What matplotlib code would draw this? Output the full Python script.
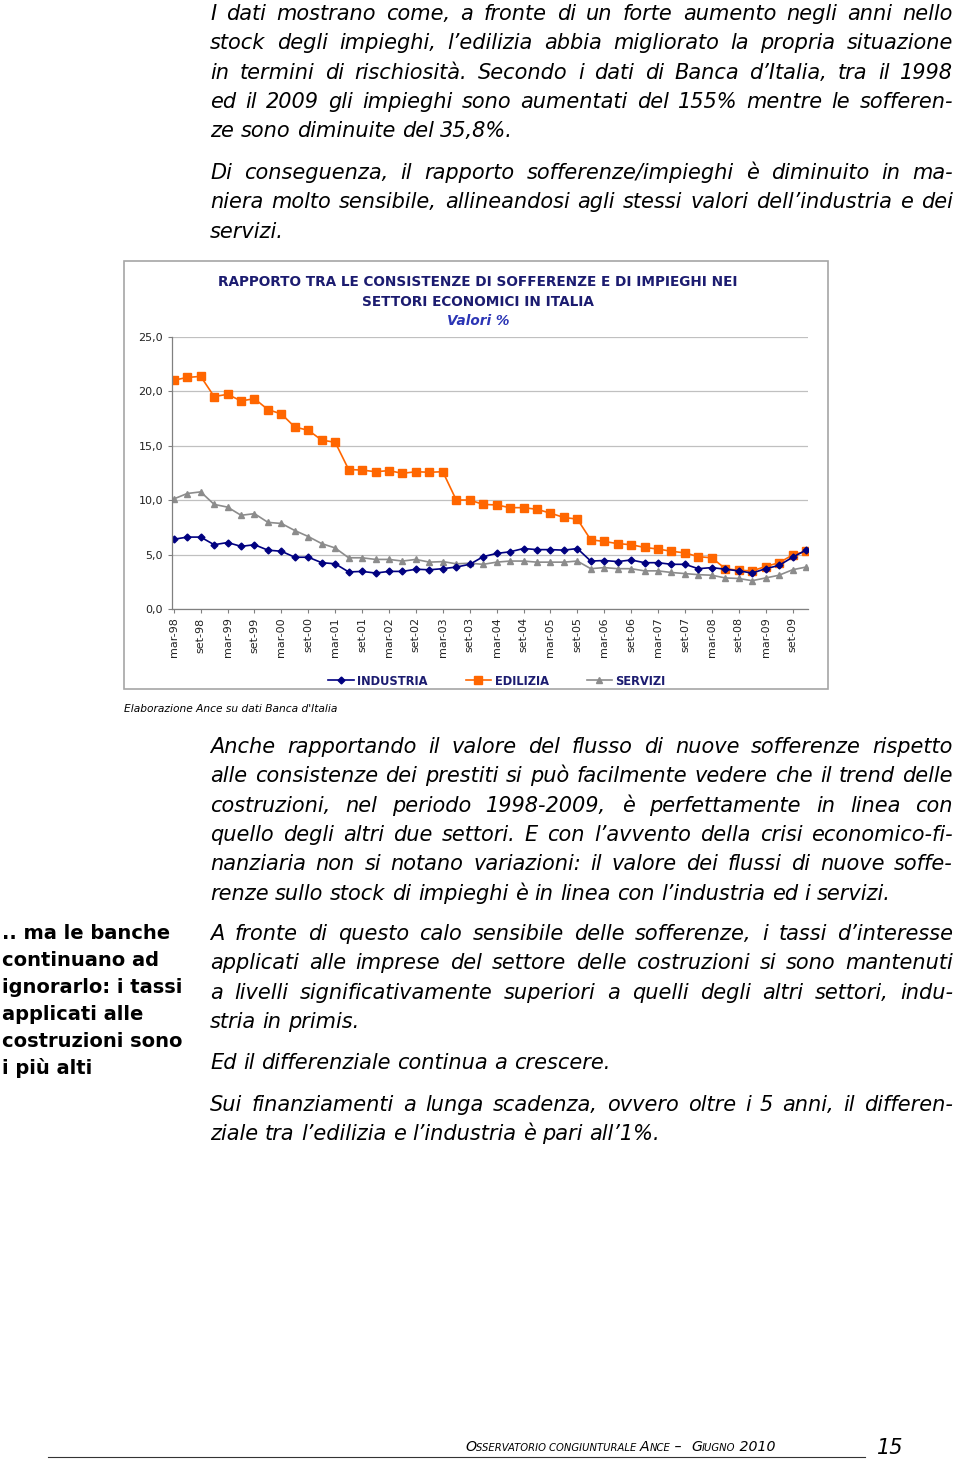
import matplotlib
matplotlib.use('Agg')
import matplotlib.pyplot as plt
from matplotlib.lines import Line2D
from matplotlib.patches import Rectangle

W, H = 960, 1461

# Quarterly data mar-98 ... dic-09 (valori %)
industria = [6.4, 6.6, 6.6, 5.9, 6.1, 5.75, 5.9, 5.4, 5.3, 4.75, 4.75, 4.25,
             4.15, 3.4, 3.45, 3.3, 3.45, 3.45, 3.65, 3.6, 3.7, 3.85, 4.1, 4.8,
             5.1, 5.25, 5.55, 5.45, 5.45, 5.4, 5.55, 4.4, 4.45, 4.35, 4.5, 4.25,
             4.25, 4.1, 4.1, 3.7, 3.8, 3.65, 3.5, 3.3, 3.7, 4.0, 4.75, 5.4]
edilizia = [21.0, 21.25, 21.35, 19.5, 19.7, 19.1, 19.3, 18.3, 17.9, 16.7, 16.4, 15.5,
            15.3, 12.8, 12.75, 12.6, 12.7, 12.45, 12.6, 12.55, 12.6, 10.0, 10.0, 9.6,
            9.55, 9.3, 9.3, 9.15, 8.8, 8.4, 8.25, 6.35, 6.2, 6.0, 5.9, 5.65,
            5.5, 5.3, 5.15, 4.8, 4.7, 3.7, 3.55, 3.5, 3.9, 4.25, 4.95, 5.3]
servizi = [10.1, 10.6, 10.75, 9.6, 9.35, 8.6, 8.75, 7.95, 7.85, 7.2, 6.65, 6.0,
           5.6, 4.7, 4.7, 4.55, 4.55, 4.4, 4.55, 4.3, 4.35, 4.15, 4.2, 4.1,
           4.3, 4.4, 4.4, 4.3, 4.3, 4.3, 4.4, 3.7, 3.8, 3.7, 3.7, 3.5,
           3.5, 3.35, 3.25, 3.15, 3.1, 2.85, 2.8, 2.6, 2.85, 3.1, 3.6, 3.85]
tick_labels = ['mar-98', 'set-98', 'mar-99', 'set-99', 'mar-00', 'set-00',
               'mar-01', 'set-01', 'mar-02', 'set-02', 'mar-03', 'set-03',
               'mar-04', 'set-04', 'mar-05', 'set-05', 'mar-06', 'set-06',
               'mar-07', 'set-07', 'mar-08', 'set-08', 'mar-09', 'set-09']
y_ticks = [0, 5, 10, 15, 20, 25]

# Page text
para1 = ["I dati mostrano come, a fronte di un forte aumento negli anni nello",
         "stock  degli impieghi, l’edilizia abbia migliorato la propria situazione",
         "in termini di rischiosità. Secondo i dati di Banca d’Italia, tra il 1998",
         "ed il 2009 gli impieghi sono aumentati del 155% mentre le sofferen-",
         "ze sono diminuite del 35,8%."]
para2 = ["Di conseguenza, il rapporto sofferenze/impieghi è diminuito in ma-",
         "niera molto sensibile, allineandosi agli stessi valori dell’industria e dei",
         "servizi."]
para3 = ["Anche rapportando il valore del flusso di nuove sofferenze rispetto",
         "alle consistenze dei prestiti si può facilmente vedere che il trend delle",
         "costruzioni, nel periodo 1998-2009, è perfettamente in linea con",
         "quello degli altri due settori. E con l’avvento della crisi economico-fi-",
         "nanziaria non si notano variazioni: il valore dei flussi di nuove soffe-",
         "renze sullo stock di impieghi è in linea con l’industria ed i servizi."]
para4 = ["A fronte di questo calo sensibile delle sofferenze, i tassi d’interesse",
         "applicati alle imprese del settore delle costruzioni si sono mantenuti",
         "a livelli significativamente superiori a quelli degli altri settori, indu-",
         "stria in primis."]
para5 = ["Ed il differenziale continua a crescere."]
para6 = ["Sui finanziamenti a lunga scadenza, ovvero oltre i 5 anni, il differen-",
         "ziale tra l’edilizia e l’industria è pari all’1%."]
side_note = [".. ma le banche", "continuano ad", "ignorarlo: i tassi",
             "applicati alle", "costruzioni sono", "i più alti"]

fig = plt.figure(figsize=(W / 100, H / 100), dpi=100)
renderer = fig.canvas.get_renderer()


def fx(x):
    return x / W


def fy(y):
    return 1 - y / H


def width(s, **kw):
    t = fig.text(0, 0, s, **kw)
    w = t.get_window_extent(renderer).width
    t.remove()
    return w


BODY = dict(fontsize=15, style='italic', family='DejaVu Sans', color='black')


def paragraph(lines, y0, dy=29.3, x0=210, x1=953, **kw):
    space = width('a a', **kw) - width('aa', **kw)
    for i, line in enumerate(lines):
        y = y0 + i * dy
        words = line.split()
        ws = [width(w, **kw) for w in words]
        last = i == len(lines) - 1
        if last or len(words) < 2:
            gap = space
        else:
            gap = (x1 - x0 - sum(ws)) / (len(words) - 1)
        x = x0
        for w, wd in zip(words, ws):
            fig.text(fx(x), fy(y), w, ha='left', va='baseline', **kw)
            x += wd + gap


paragraph(para1, 20, **BODY)
paragraph(para2, 179, **BODY)
paragraph(para3, 753, **BODY)
paragraph(para4, 940, **BODY)
paragraph(para5, 1069, **BODY)
paragraph(para6, 1111, **BODY)

for i, line in enumerate(side_note):
    fig.text(fx(2), fy(939 + i * 26.9), line, ha='left', va='baseline',
             fontsize=14, fontweight='bold', family='DejaVu Sans')

# Chart box
fig.patches.append(Rectangle((fx(124), fy(689)), fx(828) - fx(124), fy(261) - fy(689),
                             transform=fig.transFigure, fill=False,
                             edgecolor='#A6A6A6', lw=1.2))

navy = '#1C1C70'
fig.text(fx(478), fy(286), 'RAPPORTO TRA LE CONSISTENZE DI SOFFERENZE E DI IMPIEGHI NEI',
         ha='center', va='baseline', fontsize=9.8, fontweight='bold', color=navy)
fig.text(fx(478), fy(306), 'SETTORI ECONOMICI IN ITALIA',
         ha='center', va='baseline', fontsize=9.8, fontweight='bold', color=navy)
fig.text(fx(478), fy(325), 'Valori %', ha='center', va='baseline', fontsize=9.8,
         fontweight='bold', style='italic', color='#2B35B5')

ax = fig.add_axes([fx(171.5), fy(609), fx(808) - fx(171.5), fy(336.6) - fy(609)])
xs = list(range(len(industria)))
l3, = ax.plot(xs, servizi, color='#8C8C8C', marker='^', ms=4.5, lw=1.2)
l2, = ax.plot(xs, edilizia, color='#FF6600', marker='s', ms=6, lw=1.2)
l1, = ax.plot(xs, industria, color='#000080', marker='D', ms=3.5, lw=1.2)

ax.set_xlim(-0.17, 47.15)
ax.set_ylim(0, 25)
ax.set_yticks(y_ticks)
ax.set_yticklabels([f'{v:.1f}'.replace('.', ',') for v in y_ticks], fontsize=8, color='#222222')
ax.set_xticks(xs[::2])
ax.set_xticklabels(tick_labels, rotation=90, fontsize=8, color='#222222')
ax.tick_params(axis='both', direction='out', length=3, color='#808080', pad=3)
ax.grid(axis='y', color='#C0C0C0', lw=0.9)
ax.set_axisbelow(True)
for s in ['top', 'right']:
    ax.spines[s].set_visible(False)
for s in ['left', 'bottom']:
    ax.spines[s].set_color('#808080')
    ax.spines[s].set_linewidth(0.9)

leg = fig.legend([l1, l2, l3], ['INDUSTRIA', 'EDILIZIA', 'SERVIZI'], loc='center',
                 bbox_to_anchor=(fx(497), fy(681)), ncol=3, frameon=False,
                 handlelength=2.2, handletextpad=0.3, columnspacing=3.3,
                 prop=dict(size=8.3, weight='bold'))
for t in leg.get_texts():
    t.set_color(navy)

fig.text(fx(124), fy(712), "Elaborazione Ance su dati Banca d'Italia", ha='left',
         va='baseline', fontsize=7.7, style='italic')

# Footer with small caps
big, small = 10.2, 7.2
segments = [('O', big), ('SSERVATORIO ', small), ('CONGIUNTURALE ', small), ('A', big),
            ('NCE', small), (' –  ', big), ('G', big), ('IUGNO', small), (' 2010', big)]
x = 465
for s, size in segments:
    fig.text(fx(x), fy(1451), s, ha='left', va='baseline', fontsize=size, style='italic')
    x += width(s, fontsize=size, style='italic')
fig.text(fx(877), fy(1454), '15', ha='left', va='baseline', fontsize=15, style='italic')
fig.add_artist(Line2D([fx(48), fx(865)], [fy(1456.5), fy(1456.5)],
                      transform=fig.transFigure, color='#333333', lw=0.8))

fig.savefig('out.png', dpi=100)
